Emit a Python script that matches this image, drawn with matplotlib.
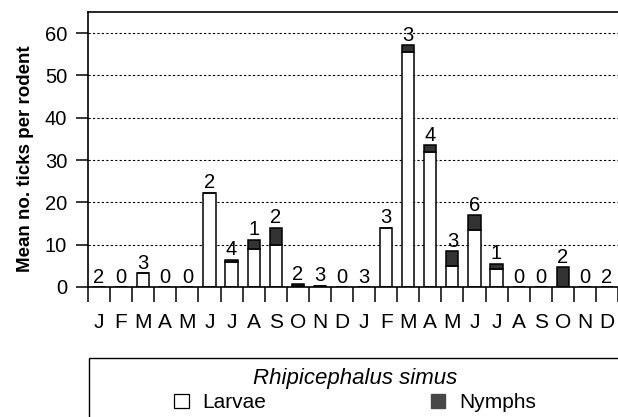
import numpy as np
import matplotlib.pyplot as plt
from matplotlib.patches import Rectangle, Patch

plt.rcParams['font.family'] = ['Liberation Sans', 'DejaVu Sans']

# Data: two years, Jan..Dec twice
months = ['J', 'F', 'M', 'A', 'M', 'J', 'J', 'A', 'S', 'O', 'N', 'D',
          'J', 'F', 'M', 'A', 'M', 'J', 'J', 'A', 'S', 'O', 'N', 'D']
larvae = [0, 0, 3.2, 0, 0, 22.3, 6.0, 9.1, 9.9, 0.2, 0.3, 0,
          0, 14.0, 55.6, 32.0, 5.0, 13.4, 4.3, 0, 0, 0, 0, 0]
nymphs = [0, 0, 0, 0, 0, 0, 0.5, 2.1, 4.1, 0.4, 0, 0,
          0, 0, 1.6, 1.5, 3.4, 3.6, 1.2, 0, 0, 4.7, 0, 0]
n_rodents = [2, 0, 3, 0, 0, 2, 4, 1, 2, 2, 3, 0,
             3, 3, 3, 4, 3, 6, 1, 0, 0, 2, 0, 2]

x = np.arange(len(months))
larvae = np.array(larvae)
nymphs = np.array(nymphs)

fig = plt.figure(figsize=(6.18, 4.17), dpi=100)
ax = fig.add_axes([88/618, 1-287/417, 530/618, 275/417])

ax.bar(x, larvae, width=0.55, color='white', edgecolor='black', linewidth=1.1, zorder=2)
ax.bar(x, nymphs, width=0.55, bottom=larvae, color='#333333', edgecolor='black',
       linewidth=1.1, zorder=2)

for xi, top, n in zip(x, larvae + nymphs, n_rodents):
    ax.text(xi, top + 0.1, str(n), ha='center', va='bottom', fontsize=14.5, zorder=3)

ax.set_xlim(-0.5, len(months) - 0.5)
ax.set_ylim(0, 65)

ax.set_yticks(range(0, 61, 10))
ax.yaxis.grid(True, color='black', linestyle=(0, (2, 2)), linewidth=0.8)
ax.set_axisbelow(True)
ax.tick_params(axis='y', direction='out', length=9, width=1.1, labelsize=14.5, pad=6)

ax.set_xticks(x)
ax.set_xticklabels(months)
ax.set_xticks(np.arange(-0.5, len(months), 1), minor=True)
ax.tick_params(axis='x', which='major', length=0, labelsize=15, pad=19)
ax.tick_params(axis='x', which='minor', direction='out', length=11, width=1.1)

ax.spines['right'].set_visible(False)
for s in ['top', 'left', 'bottom']:
    ax.spines[s].set_linewidth(1.2)

ax.set_ylabel('Mean no. ticks per rodent', fontsize=13.5, fontweight='bold')
ax.yaxis.set_label_coords(-0.102, 0.465)

# legend box running off the bottom/right edge
fig.patches.append(Rectangle((89/618, -0.2), 1.0, 0.2 + (1 - 358/417),
                             transform=fig.transFigure, fill=False,
                             edgecolor='black', linewidth=1.0))
handles = [Patch(facecolor='white', edgecolor='black', linewidth=0.9),
           Patch(facecolor='#474747', edgecolor='#474747')]
leg = fig.legend(handles, ['Larvae', 'Nymphs'], loc='center', ncol=2,
                 bbox_to_anchor=(355/618, 1-390/417), frameon=False,
                 fontsize=15, title='Rhipicephalus simus',
                 title_fontproperties={'style': 'italic', 'size': 16},
                 handlelength=0.7, handleheight=0.7, handletextpad=0.65,
                 columnspacing=7.9, labelspacing=0.2, borderpad=0.1)

fig.savefig('out.png', dpi=100)
